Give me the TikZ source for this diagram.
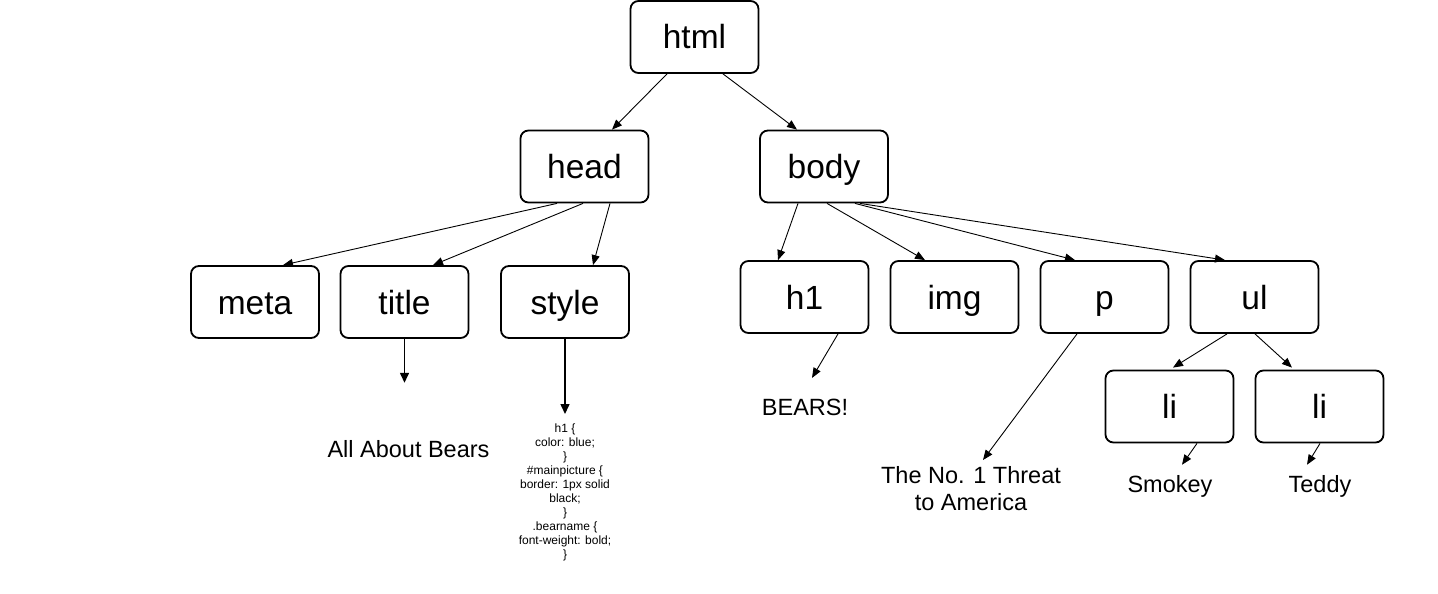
\documentclass[tikz,border=0pt]{standalone}
\usepackage{fontspec}
\setmainfont{Liberation Sans}
\usetikzlibrary{arrows.meta}
\begin{document}
\begin{tikzpicture}[x=1pt,y=-1pt,
  tag/.style={draw, line width=1.8pt, rounded corners=8pt, minimum width=128pt, minimum height=72pt, inner sep=0pt, font=\fontsize{33.5}{40}\selectfont, text height=24pt, text depth=0pt},
  link/.style={line width=0.9pt, -{Triangle[length=10pt,width=8pt]}},
  drop/.style={line width=1.5pt, -{Triangle[length=10pt,width=9pt]}},
  leaf/.style={inner sep=0pt, font=\fontsize{23.5}{27}\selectfont, align=center},
  code/.style={inner sep=0pt, font=\fontsize{12}{14}\selectfont, align=center}]
\useasboundingbox (0,0) rectangle (1438,594);

\node[tag] (html) at (694.5,37) {html};
\node[tag] (head) at (584.5,166.5) {head};
\node[tag] (body) at (824,166.5) {body};
\node[tag] (meta) at (255,302) {meta};
\node[tag] (title) at (404.5,302) {title};
\node[tag] (style) at (565,302) {style};
\node[tag] (h1) at (804.5,297) {h1};
\node[tag] (img) at (954.5,297) {img};
\node[tag] (p) at (1104.5,297) {p};
\node[tag] (ul) at (1254.5,297) {ul};
\node[tag] (li1) at (1169.5,406.5) {li};
\node[tag] (li2) at (1319.5,406.5) {li};

\node[leaf, anchor=base] (abt) at (408.5,457) {All About Bears};
\node[code, anchor=north] (css) at (565,424) {h1 \{\\color: blue;\\\}\\\#mainpicture \{\\border: 1px solid\\black;\\\}\\.bearname \{\\font-weight: bold;\\\}};
\node[leaf, anchor=base] (bears) at (805,415) {BEARS!};
\node[leaf, anchor=north] (threat) at (971,466) {The No. 1 Threat\\to America};
\node[leaf, anchor=base] (smokey) at (1170,492) {Smokey};
\node[leaf, anchor=base] (teddy) at (1320,492) {Teddy};

\draw[link] ([xshift=-27.5pt]html.south) -- ([xshift=27.5pt]head.north);
\draw[link] ([xshift=28.5pt]html.south) -- ([xshift=-27pt]body.north);
\draw[link] ([xshift=-27.5pt]head.south) -- ([xshift=28pt]meta.north);
\draw[link] ([xshift=-1.5pt]head.south) -- ([xshift=28.5pt]title.north);
\draw[link] ([xshift=25.5pt]head.south) -- ([xshift=28pt]style.north);
\draw[link] ([xshift=-26pt]body.south) -- ([xshift=-26.5pt]h1.north);
\draw[link] ([xshift=3pt]body.south) -- ([xshift=-29.5pt]img.north);
\draw[link] ([xshift=31pt]body.south) -- ([xshift=-29.5pt]p.north);
\draw[link] ([xshift=36pt]body.south) -- ([xshift=-29.5pt]ul.north);
\draw[link] ([xshift=-27.5pt]ul.south) -- ([xshift=3.5pt,yshift=2pt]li1.north);
\draw[link] ([xshift=0.5pt]ul.south) -- ([xshift=-27.5pt,yshift=2pt]li2.north);

\draw[drop] (title.south) -- ([xshift=-4pt,yshift=57pt]abt.north);
\draw[drop] (style.south) -- ([yshift=10pt]css.north);
\draw[link] ([xshift=33.5pt]h1.south) -- ([xshift=7pt,yshift=20.5pt]bears.north);
\draw[link] ([xshift=-27.5pt]p.south) -- ([xshift=12pt,yshift=6pt]threat.north);
\draw[link] ([xshift=27.5pt]li1.south) -- ([xshift=12pt,yshift=10pt]smokey.north);
\draw[link] ([xshift=0.5pt]li2.south) -- ([xshift=-13pt,yshift=10pt]teddy.north);
\end{tikzpicture}
\end{document}
